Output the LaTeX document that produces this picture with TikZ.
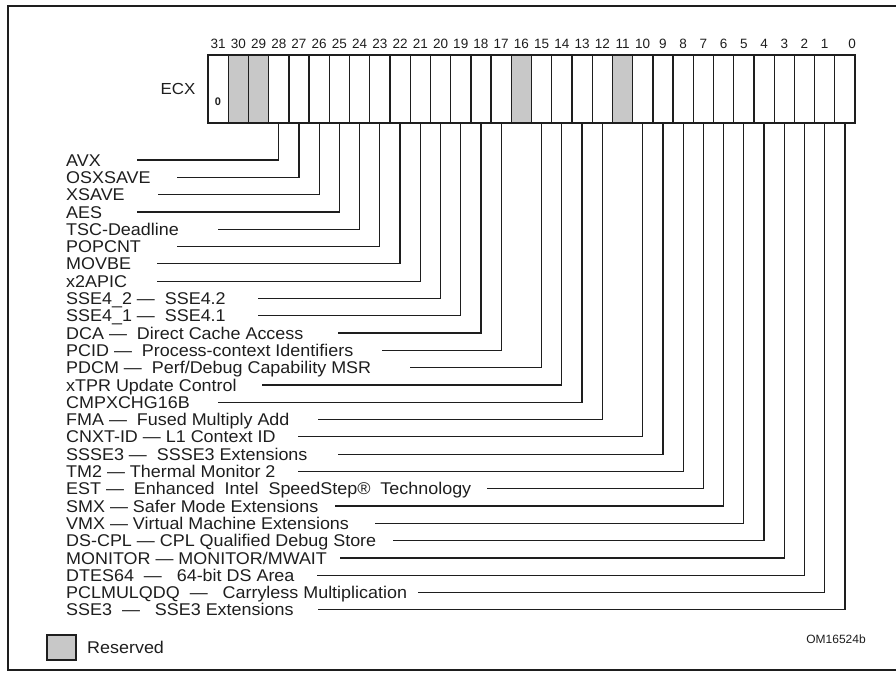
\documentclass[tikz,border=0pt]{standalone}
\usepackage{fontspec}
\setmainfont{Liberation Sans}
\newfontfamily\labfont[FakeStretch=1.055]{Liberation Sans}
\definecolor{ink}{HTML}{1E1E1E}
\definecolor{resv}{HTML}{C8C8C8}
\begin{document}
\begin{tikzpicture}[x=1pt,y=-1pt,
  cell/.style={draw=ink, line width=1.3pt, minimum width=20.22pt, minimum height=68pt, inner sep=0pt, outer sep=0pt},
  rsv/.style={cell, fill=resv},
  bitnum/.style={font=\fontsize{13.5}{13.5}\selectfont, text=ink, inner sep=0pt},
  lab/.style={font=\labfont\fontsize{17}{17}\selectfont, text=ink, inner sep=0pt, text height=12.2pt, text depth=0pt, anchor=west},
  lead/.style={draw=ink, line width=1.2pt}]
\useasboundingbox (0,0) rectangle (896,673);
% outer frame (runs past the right edge)
\draw[ink, line width=1.4pt] (900,6) -- (8,6) -- (8,670) -- (900,670);

% ECX register cells, bit 31 on the left
\foreach \i in {0,...,31}{
  \pgfmathsetmacro{\cx}{208+(31-\i+0.5)*20.22}
  \node[cell] (b\i) at (\cx,89) {};
}
\foreach \i in {30,29,16,11}{
  \node[rsv] at (b\i) {};
}
\foreach \i in {31,...,1}{
  \pgfmathsetmacro{\cx}{208+(31-\i+0.5)*20.22}
  \node[bitnum] (n\i) at (\cx,44) {\i};
}
\node[bitnum] (n0) at (852,44) {0};
\node[font=\labfont\fontsize{16}{16}\selectfont, text=ink, inner sep=0pt] (ecx) at (178,89) {ECX};
\node[font=\fontsize{11}{11}\selectfont\bfseries, text=ink, inner sep=0pt] (zero) at (218,102) {0};

% feature flags and their leaders
\foreach \b/\sx/\t [count=\k from 0] in {
  28/137/{AVX},
  27/177/{OSXSAVE},
  26/158/{XSAVE},
  25/137/{AES},
  24/218/{TSC-Deadline},
  23/177/{POPCNT},
  22/157/{MOVBE},
  21/157/{x2APIC},
  20/258/{SSE4\_2 —~~SSE4.2},
  19/258/{SSE4\_1 —~~SSE4.1},
  18/338/{DCA —~~Direct Cache Access},
  17/382/{PCID —~~Process-context Identifiers},
  15/410/{PDCM —~~Perf/Debug Capability MSR},
  14/262/{xTPR Update Control},
  13/218/{CMPXCHG16B},
  12/318/{FMA —~~Fused Multiply Add},
  10/298/{CNXT-ID — L1 Context ID},
  9/338/{SSSE3 —~~SSSE3 Extensions},
  8/298/{TM2 — Thermal Monitor 2},
  7/487/{EST —~~Enhanced~~Intel~~SpeedStep®~~Technology},
  6/335/{SMX — Safer Mode Extensions},
  5/375/{VMX — Virtual Machine Extensions},
  4/393/{DS-CPL — CPL Qualified Debug Store},
  3/340/{MONITOR — MONITOR/MWAIT},
  2/317/{DTES64~~—~~~64-bit DS Area},
  1/418/{PCLMULQDQ~~—~~~Carryless Multiplication},
  0/318/{SSE3~~—~~~SSE3 Extensions}}{
  \pgfmathsetmacro{\ry}{160+17.3*\k}
  \node[lab] (l\b) at (66,\ry) {\t};
  \coordinate (s\b) at (\sx,\ry);
  \draw[lead] (b\b.south) |- (s\b);
}

% legend
\node[draw=ink, line width=1.3pt, fill=resv, minimum width=29pt, minimum height=25pt, inner sep=0pt] (key) at (61.5,647.5) {};
\node[lab] (keytext) at (87,647.5) {Reserved};
\node[font=\fontsize{12}{12}\selectfont, text=ink, inner sep=0pt] (fig) at (836,639) {OM16524b};
\end{tikzpicture}
\end{document}
